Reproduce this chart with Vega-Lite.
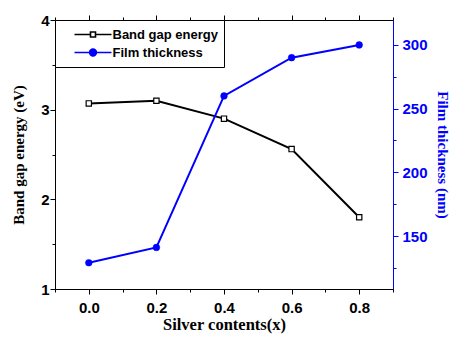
{
  "$schema": "https://vega.github.io/schema/vega-lite/v6.json",
  "width": 338,
  "height": 269,
  "autosize": "none",
  "padding": {"left": 55, "top": 20, "right": 58, "bottom": 49},
  "background": "white",
  "config": {
    "font": "Liberation Sans",
    "view": {"stroke": "black", "strokeWidth": 1},
    "axis": {"grid": false, "tickWidth": 1, "domainWidth": 1},
    "legend": {"labelFont": "Liberation Sans", "labelFontSize": 13, "labelFontWeight": "bold"}
  },
  "data": {
    "values": [
      {"x": 0.0, "band_gap": 3.07, "thickness": 129},
      {"x": 0.2, "band_gap": 3.10, "thickness": 141},
      {"x": 0.4, "band_gap": 2.90, "thickness": 260},
      {"x": 0.6, "band_gap": 2.56, "thickness": 290},
      {"x": 0.8, "band_gap": 1.80, "thickness": 300}
    ]
  },
  "layer": [
    {
      "encoding": {
        "x": {
          "field": "x",
          "type": "quantitative",
          "scale": {"domain": [-0.1, 0.9], "nice": false, "zero": false},
          "axis": {
            "orient": "bottom",
            "values": [-0.1, 0, 0.1, 0.2, 0.3, 0.4, 0.5, 0.6, 0.7, 0.8, 0.9],
            "labelExpr": "round(datum.value * 10) % 2 === 0 ? format(datum.value, '.1f') : ''",
            "tickSize": {"condition": {"test": "round(datum.value * 10) % 2 === 0", "value": 5}, "value": 3},
            "tickColor": "black",
            "domainColor": "black",
            "labelColor": "black",
            "labelFont": "Liberation Sans",
            "labelFontWeight": "bold",
            "labelFontSize": 15,
            "labelPadding": 6,
            "title": "Silver contents(x)",
            "titleFont": "Liberation Serif",
            "titleFontWeight": "bold",
            "titleFontSize": 16.5,
            "titleColor": "black",
            "titlePadding": 1
          }
        },
        "y": {
          "field": "band_gap",
          "type": "quantitative",
          "scale": {"domain": [1, 4], "nice": false, "zero": false},
          "axis": {
            "orient": "left",
            "values": [1, 1.5, 2, 2.5, 3, 3.5, 4],
            "labelExpr": "datum.value % 1 === 0 ? format(datum.value, 'd') : ''",
            "tickSize": {"condition": {"test": "datum.value % 1 === 0", "value": 5}, "value": 3},
            "tickColor": "black",
            "domainColor": "black",
            "labelColor": "black",
            "labelFont": "Liberation Sans",
            "labelFontWeight": "bold",
            "labelFontSize": 15,
            "labelPadding": 1,
            "title": "Band gap energy (eV)",
            "titleFont": "Liberation Serif",
            "titleFontWeight": "bold",
            "titleFontSize": 15,
            "titleColor": "black",
            "titlePadding": 14
          }
        }
      },
      "layer": [
        {
          "mark": {"type": "line", "strokeWidth": 2},
          "encoding": {
            "color": {
              "datum": "Band gap energy",
              "scale": {"domain": ["Band gap energy", "Film thickness"], "range": ["black", "blue"]},
              "legend": {
                "orient": "none",
                "legendX": 0,
                "legendY": 0,
                "title": null,
                "strokeColor": "black",
                "fillColor": "white",
                "padding": 6,
                "clipHeight": 17,
                "rowPadding": 1,
                "symbolSize": 100,
                "symbolOffset": 25.5,
                "labelOffset": 13,
                "symbolStrokeWidth": 1.6,
                "labelFont": "Liberation Sans",
                "labelFontWeight": "bold",
                "labelFontSize": 13,
                "labelColor": "black",
                "labelLimit": 300,
                "encode": {
                  "symbols": {
                    "update": {
                      "shape": {"signal": "datum.value === 'Band gap energy' ? 'M-3.7,0H-0.5M0.5,0H3.7M-0.5,-0.5H0.5V0.5H-0.5ZM27.9,0L27.9,0' : 'M-3.7,0H3.7M0.68,0A0.68,0.68,0,1,1,-0.68,0A0.68,0.68,0,1,1,0.68,0ZM27.9,0L27.9,0'"},
                      "fill": {"signal": "datum.value === 'Band gap energy' ? 'white' : 'blue'"},
                      "strokeCap": {"value": "butt"},
                      "opacity": {"value": 1}
                    }
                  }
                }
              }
            }
          }
        },
        {
          "mark": {"type": "point", "shape": "square", "filled": true, "fill": "white", "stroke": "black", "strokeWidth": 1.2, "size": 28, "opacity": 1}
        }
      ]
    },
    {
      "encoding": {
        "x": {
          "field": "x",
          "type": "quantitative",
          "scale": {"domain": [-0.1, 0.9], "nice": false, "zero": false},
          "axis": {
            "orient": "top",
            "values": [-0.1, 0, 0.1, 0.2, 0.3, 0.4, 0.5, 0.6, 0.7, 0.8, 0.9],
            "labels": false,
            "tickSize": {"condition": {"test": "round(datum.value * 10) % 2 === 0", "value": 5}, "value": 3},
            "tickColor": "black",
            "domainColor": "black",
            "title": null
          }
        },
        "y": {
          "field": "thickness",
          "type": "quantitative",
          "scale": {"domain": [108.4, 319.6], "nice": false, "zero": false},
          "axis": {
            "orient": "right",
            "values": [125, 150, 175, 200, 225, 250, 275, 300],
            "labelExpr": "datum.value % 50 === 0 ? format(datum.value, 'd') : ''",
            "tickSize": {"condition": {"test": "datum.value % 50 === 0", "value": 5}, "value": 3},
            "tickColor": "blue",
            "domainColor": "blue",
            "labelColor": "blue",
            "labelFont": "Liberation Sans",
            "labelFontWeight": "bold",
            "labelFontSize": 15,
            "labelPadding": 4,
            "title": "Film thickness (nm)",
            "titleFont": "Liberation Serif",
            "titleFontWeight": "bold",
            "titleFontSize": 15,
            "titleColor": "blue",
            "titlePadding": 7
          }
        }
      },
      "layer": [
        {
          "mark": {"type": "line", "strokeWidth": 2},
          "encoding": {
            "color": {
              "datum": "Film thickness",
              "scale": {"domain": ["Band gap energy", "Film thickness"], "range": ["black", "blue"]}
            }
          }
        },
        {
          "mark": {"type": "point", "shape": "circle", "filled": true, "fill": "blue", "stroke": "blue", "strokeWidth": 0.5, "size": 45, "opacity": 1}
        }
      ]
    }
  ],
  "resolve": {"scale": {"y": "independent"}, "axis": {"x": "independent", "y": "independent"}}
}
